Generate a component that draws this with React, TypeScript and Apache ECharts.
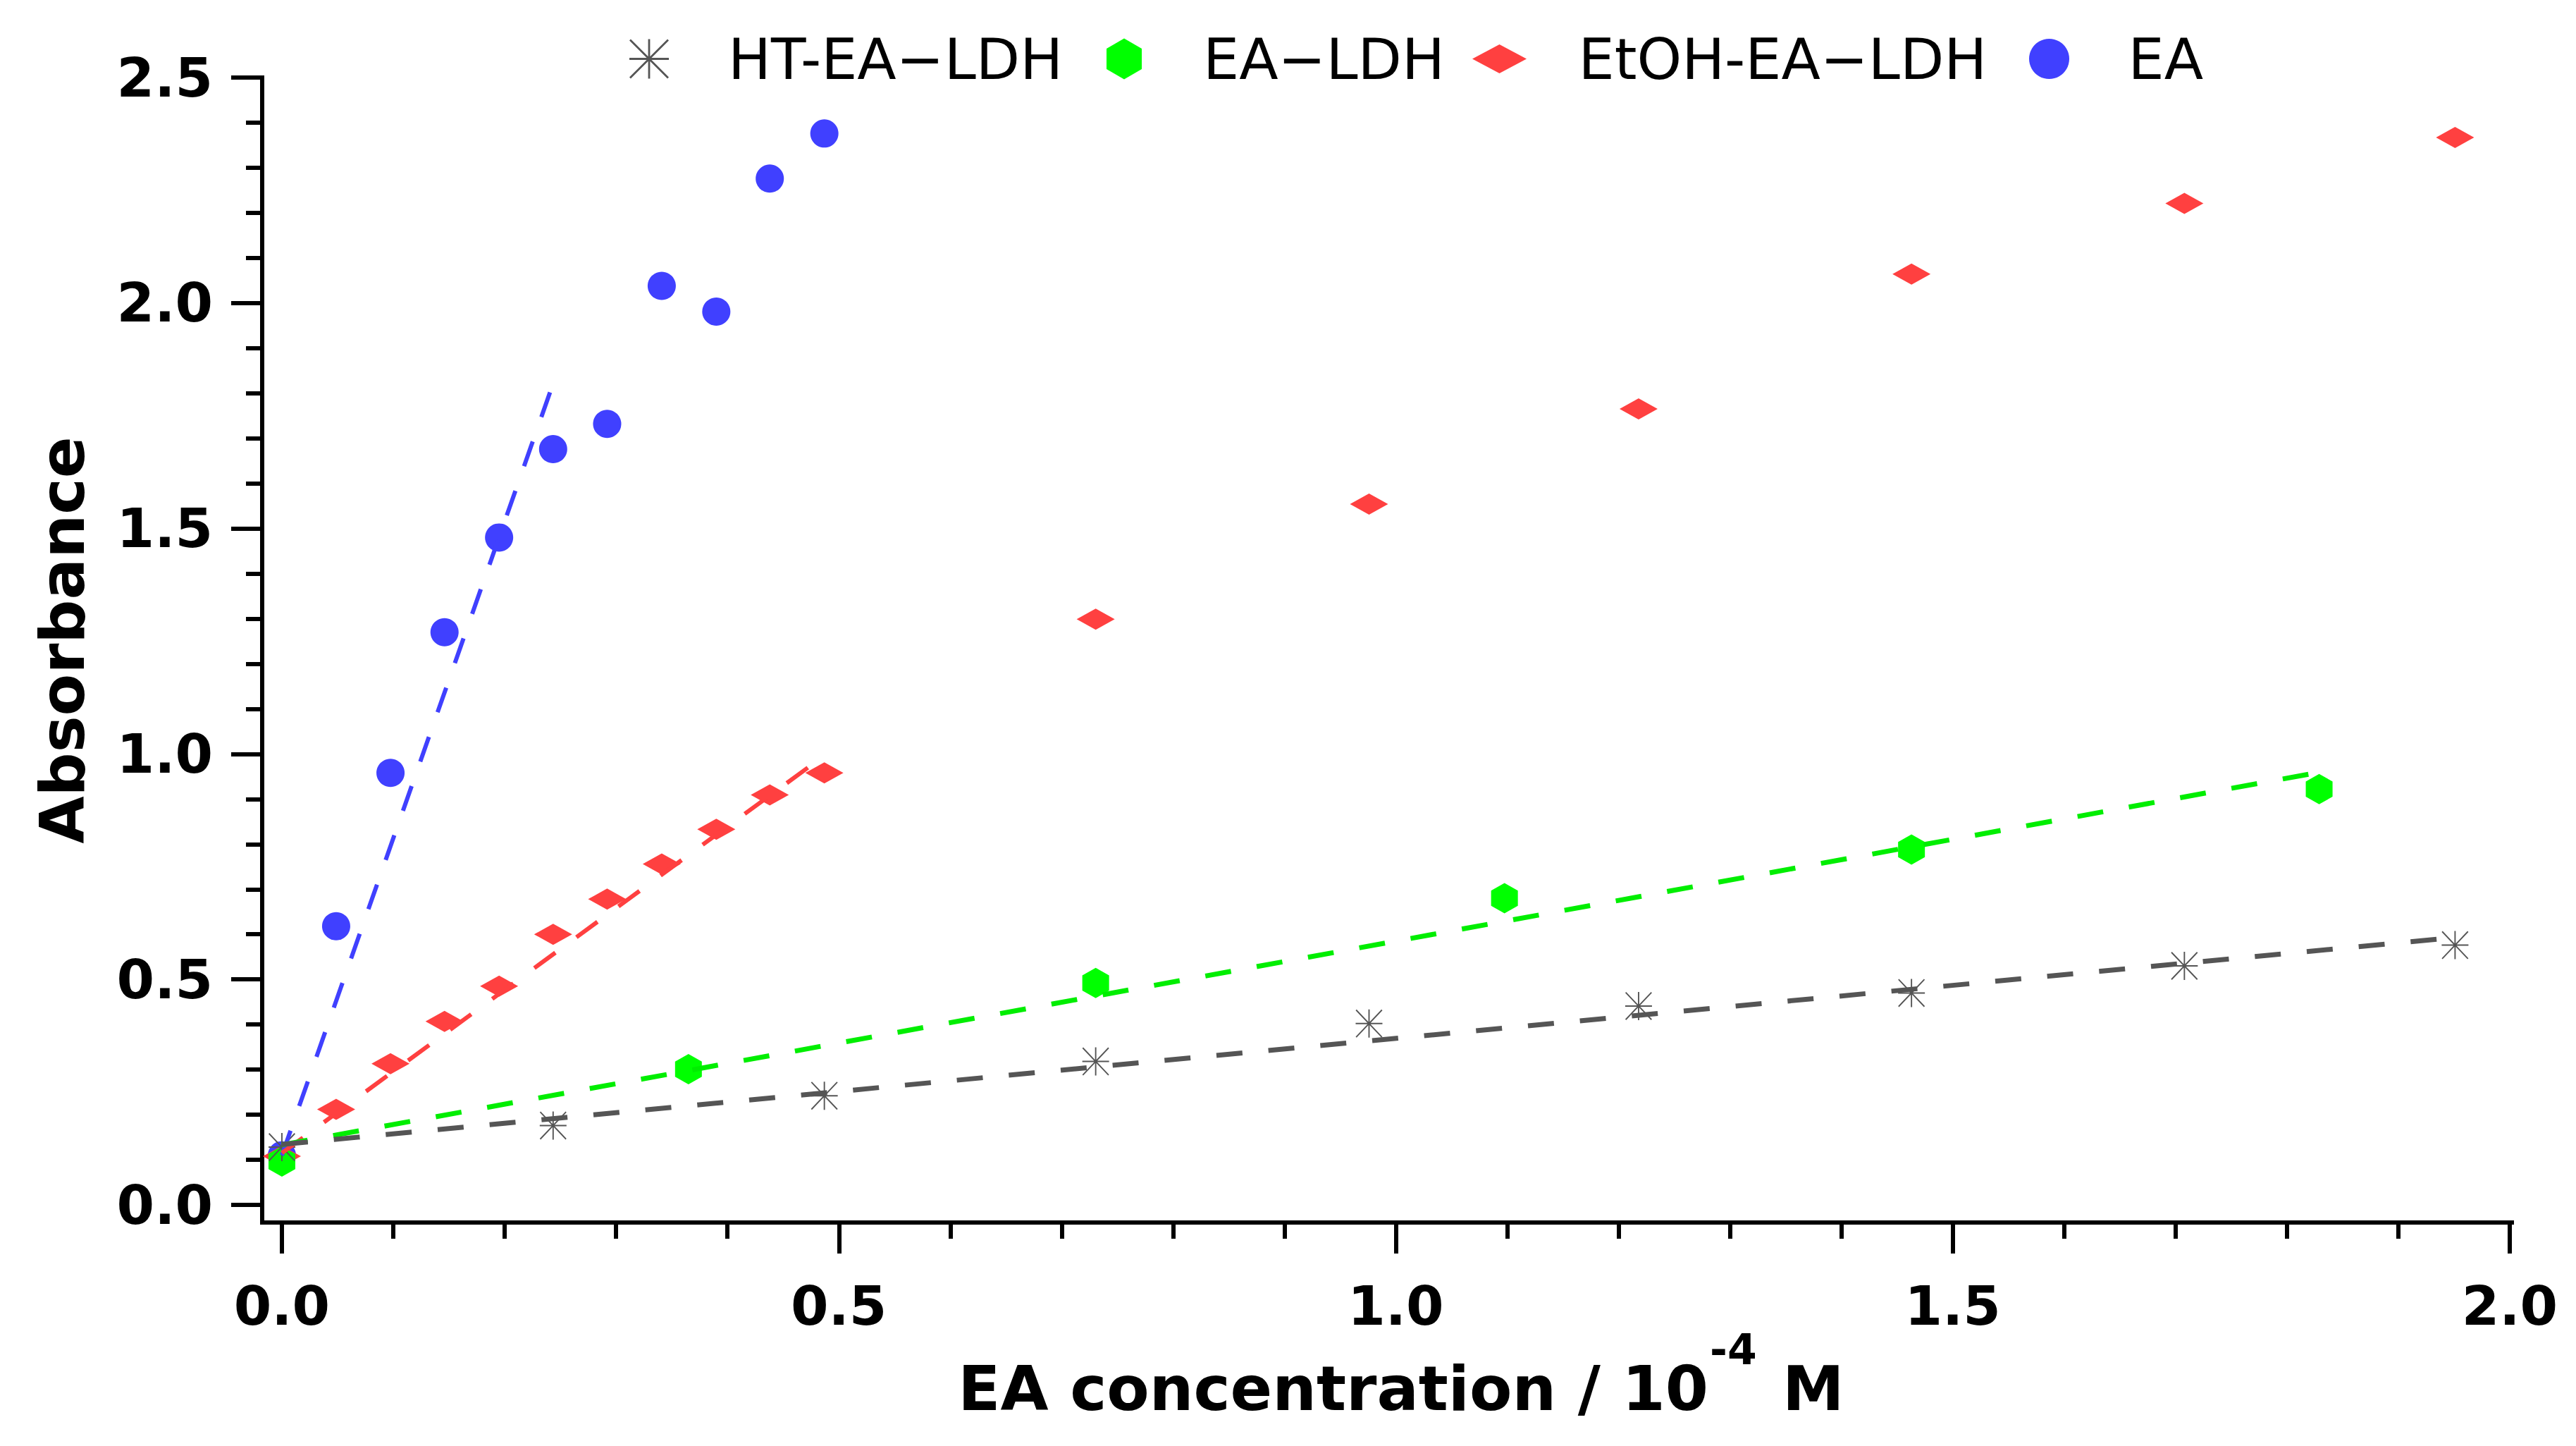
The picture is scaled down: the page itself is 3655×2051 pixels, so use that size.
import React, { useEffect, useRef } from 'react';
import * as echarts from 'echarts';

// EA concentration (10^-4 M) and absorbance
const htX = [0, 0.2435, 0.487, 0.7306, 0.976, 1.218, 1.463, 1.708, 1.951];
const htY = [0.128, 0.176, 0.242, 0.318, 0.402, 0.441, 0.47, 0.53, 0.576];

const eaLdhX = [0, 0.365, 0.7306, 1.0976, 1.463, 1.829];
const eaLdhY = [0.096, 0.301, 0.492, 0.68, 0.788, 0.922];

const etohX = [0, 0.0487, 0.0975, 0.146, 0.195, 0.2435, 0.292, 0.341, 0.39, 0.438, 0.487, 0.7306, 0.976, 1.218, 1.463, 1.708, 1.951];
const etohY = [0.108, 0.212, 0.313, 0.407, 0.485, 0.6, 0.678, 0.756, 0.833, 0.909, 0.958, 1.299, 1.554, 1.765, 2.064, 2.221, 2.367];

const eaX = [0, 0.0487, 0.0975, 0.146, 0.195, 0.2435, 0.292, 0.341, 0.39, 0.438, 0.487];
const eaY = [0.11, 0.618, 0.958, 1.27, 1.48, 1.676, 1.732, 2.038, 1.981, 2.276, 2.376];

// dashed linear fits, start and end points
const fitHT = [[0, 0.134], [1.947, 0.592]];
const fitEaLdh = [[0, 0.133], [1.826, 0.958]];
const fitEtoh = [[0, 0.115], [0.484, 0.991]];
const fitEa = [[0, 0.11], [0.244, 1.825]];

const xTickStep = 0.5;
const yTickStep = 0.5;

const FONT = 'DejaVu Sans';

const ASTERISK =
  'path://M0,19 L40,19 L40,21 L0,21 Z M19,0 L21,0 L21,40 L19,40 Z M0,1.4 L1.4,0 L40,38.6 L38.6,40 Z M38.6,0 L40,1.4 L1.4,40 L0,38.6 Z';
const HEXAGON = 'path://M25,0 L50,14.5 L50,43.5 L25,58 L0,43.5 L0,14.5 Z';
const DIAMOND = 'path://M38.5,0 L77,20.5 L38.5,41 L0,20.5 Z';

const zip = (xs: number[], ys: number[]) => xs.map((x, i) => [x, ys[i]]);

const App: React.FC = () => {
  const chartRef = useRef<HTMLDivElement>(null);

  useEffect(() => {
    if (!chartRef.current) return;
    const chart = echarts.init(chartRef.current, null, { renderer: 'svg' });

    const tickLabel = {
      fontSize: 77,
      fontWeight: 'bold',
      fontFamily: FONT,
      color: '#000',
      formatter: (v: number) => v.toFixed(1),
    };
    const tickLine = { color: '#000', width: 6 };

    // left = icon centre plus a small correction for where echarts puts the item
    const legendItems = [
      { name: 'HT-EA−LDH', icon: ASTERISK, left: 919 - 26, h: 56 },
      { name: 'EA−LDH', icon: HEXAGON, left: 1596 - 26, h: 58 },
      { name: 'EtOH-EA−LDH', icon: DIAMOND, left: 2129 - 40, h: 41 },
      { name: 'EA', icon: 'circle', left: 2910 - 31, h: 57 },
    ];

    const fitLine = (name: string, data: number[][], color: string, width: number) => ({
      name,
      type: 'line',
      data,
      symbol: 'none',
      showSymbol: false,
      silent: true,
      lineStyle: { color, width, type: [37, 37] },
      z: 3,
    });

    const titleStyle = { fontWeight: 'bold', fontFamily: FONT, fill: '#000', verticalAlign: 'middle' };

    const option = {
      animation: false,
      backgroundColor: '#fff',
      grid: [
        { left: 372, right: 91, top: 110, bottom: 317, outerBoundsMode: 'none', containLabel: false },
        { left: 400, right: 94, top: 110, bottom: 342, outerBoundsMode: 'none', containLabel: false },
      ],
      legend: legendItems.map(it => ({
        data: [{ name: it.name, icon: it.icon }],
        left: it.left,
        top: 43,
        padding: 0,
        itemWidth: 214,
        itemHeight: it.h,
        selectedMode: false,
        textStyle: { fontSize: 81, fontFamily: FONT, color: '#000' },
      })),
      graphic: [
        {
          type: 'text',
          x: 2424,
          y: 1969,
          style: { ...titleStyle, text: 'EA concentration / 10', fontSize: 88, align: 'right' },
        },
        {
          type: 'text',
          x: 2426,
          y: 1914,
          style: { ...titleStyle, text: '-4', fontSize: 60, align: 'left' },
        },
        {
          type: 'text',
          x: 2529,
          y: 1969,
          style: { ...titleStyle, text: 'M', fontSize: 88, align: 'left' },
        },
      ],
      xAxis: [
        {
          gridIndex: 0,
          type: 'value',
          min: -0.0177,
          max: 2.002,
          axisLine: { show: true, onZero: false, lineStyle: { color: '#000', width: 6, cap: 'square' } },
          axisTick: { show: false },
          axisLabel: { show: false },
          splitLine: { show: false },
        },
        {
          gridIndex: 1,
          type: 'value',
          min: 0,
          max: 2,
          interval: xTickStep,
          offset: 25,
          axisLine: { show: false, onZero: false },
          axisTick: { show: true, length: 44, lineStyle: tickLine },
          minorTick: { show: true, splitNumber: 5, length: 23, lineStyle: tickLine },
          axisLabel: { ...tickLabel, margin: 80 },
          splitLine: { show: false },
        },
      ],
      yAxis: [
        {
          gridIndex: 0,
          type: 'value',
          min: -0.0391,
          max: 2.5,
          axisLine: { show: true, onZero: false, lineStyle: { color: '#000', width: 6, cap: 'square' } },
          axisTick: { show: false },
          axisLabel: { show: false },
          splitLine: { show: false },
          name: 'Absorbance',
          nameLocation: 'middle',
          nameGap: 240,
          nameTextStyle: {
            fontSize: 87,
            fontWeight: 'bold',
            fontFamily: FONT,
            color: '#000',
            padding: [0, 0, 0, 28],
          },
        },
        {
          gridIndex: 1,
          type: 'value',
          min: 0,
          max: 2.5,
          interval: yTickStep,
          offset: 28,
          axisLine: { show: false, onZero: false },
          axisTick: { show: true, length: 44, lineStyle: tickLine },
          minorTick: { show: true, splitNumber: 5, length: 23, lineStyle: tickLine },
          axisLabel: { ...tickLabel, margin: 70 },
          splitLine: { show: false },
        },
      ],
      series: [
        {
          name: 'EA',
          type: 'scatter',
          data: zip(eaX, eaY),
          symbol: 'circle',
          symbolSize: 40,
          itemStyle: { color: '#4040ff', opacity: 1 },
          z: 2,
        },
        {
          name: 'EtOH-EA−LDH',
          type: 'scatter',
          data: zip(etohX, etohY),
          symbol: 'diamond',
          symbolSize: [54, 30],
          itemStyle: { color: '#ff4040', opacity: 1 },
          z: 2,
        },
        {
          name: 'EA−LDH',
          type: 'scatter',
          data: zip(eaLdhX, eaLdhY),
          symbol: HEXAGON,
          symbolSize: [38, 43],
          itemStyle: { color: '#00ff00', opacity: 1 },
          z: 2,
        },
        {
          name: 'HT-EA−LDH',
          type: 'scatter',
          data: zip(htX, htY),
          symbol: ASTERISK,
          symbolSize: [38, 40],
          itemStyle: { color: '#555555', opacity: 1 },
          z: 2,
        },
        fitLine('fit EA', fitEa, '#4040ff', 6),
        fitLine('fit EtOH', fitEtoh, '#ff4040', 6),
        fitLine('fit EA-LDH', fitEaLdh, '#00ee00', 7),
        fitLine('fit HT', fitHT, '#555555', 7),
      ],
    };

    chart.setOption(option as any);

    return () => {
      chart.dispose();
    };
  }, []);

  return (
    <div
      ref={chartRef}
      style={{ position: 'absolute', left: 0, top: 0, width: '3655px', height: '2051px' }}
    />
  );
};

export default App;
